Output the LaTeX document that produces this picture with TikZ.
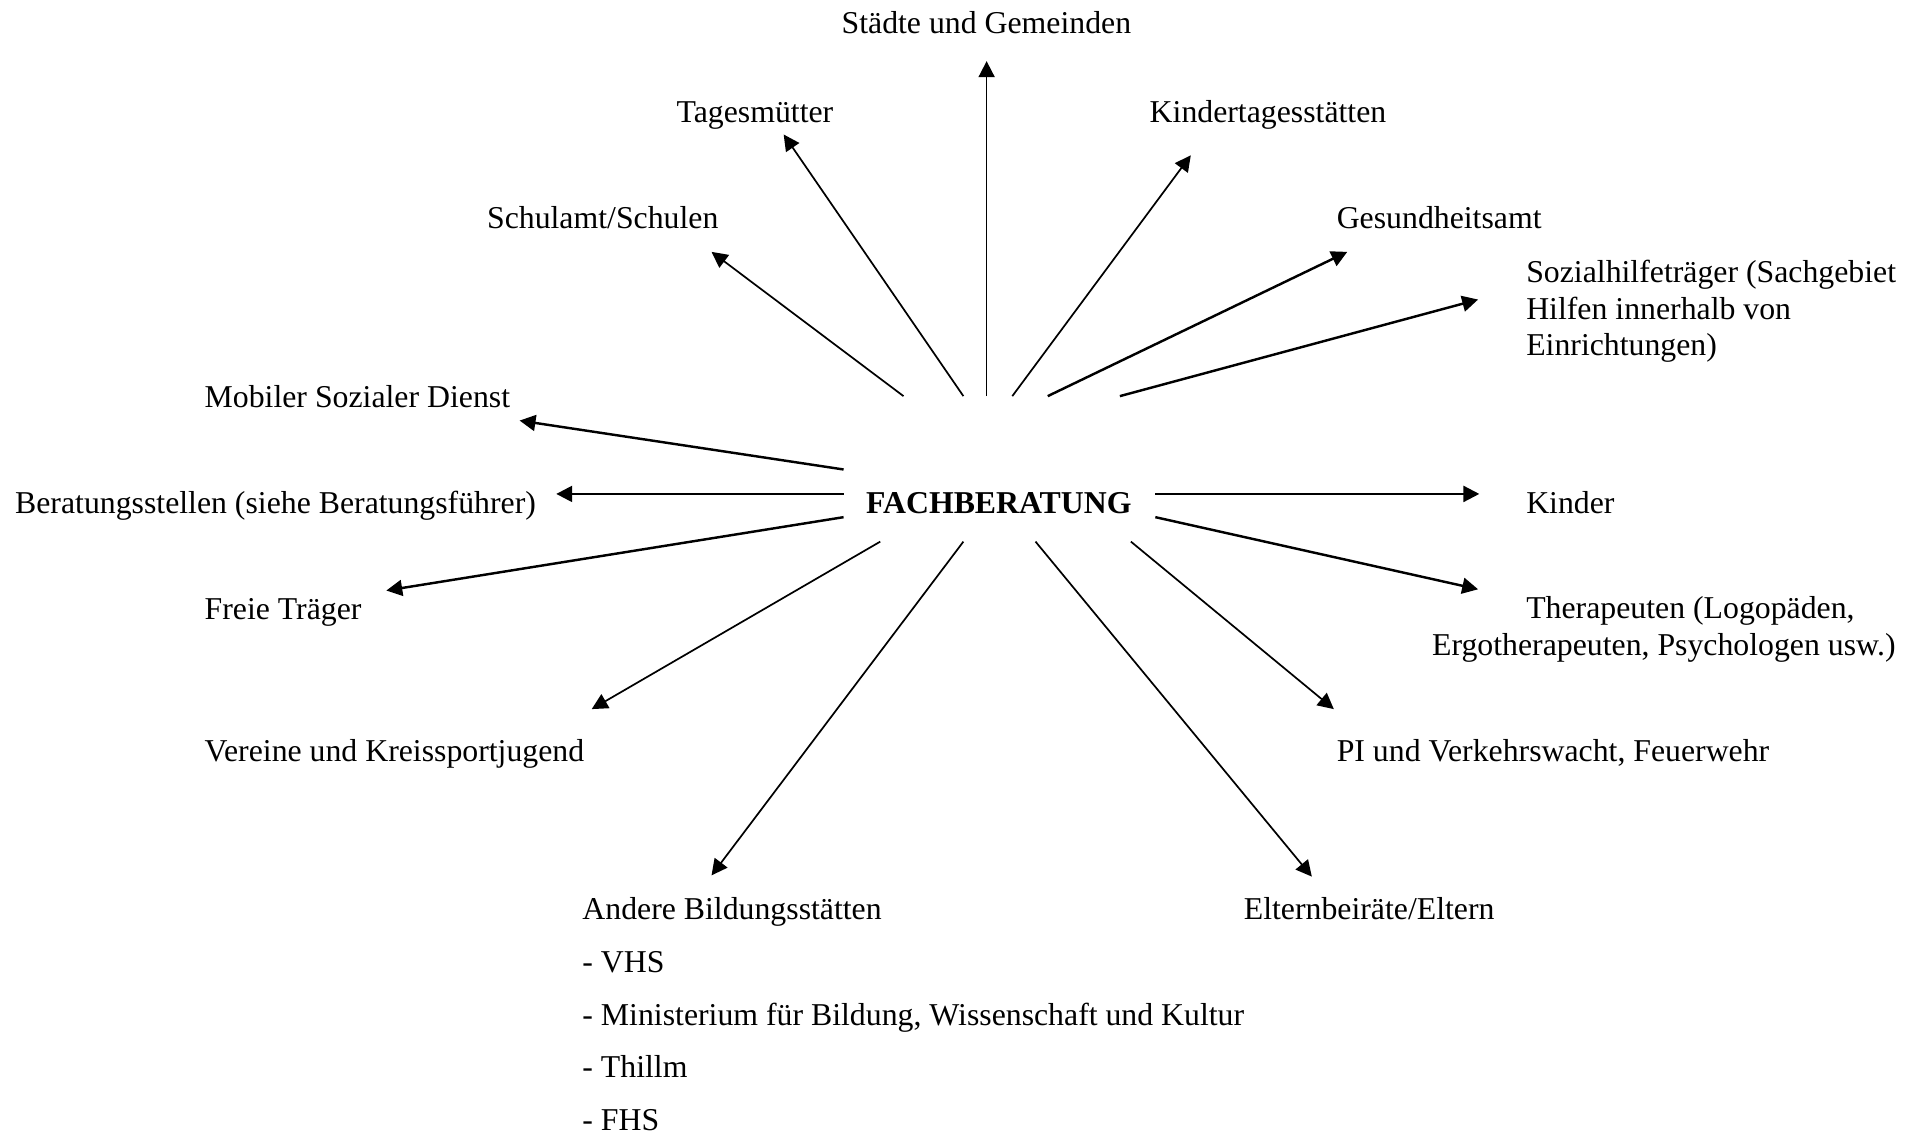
\documentclass[tikz,border=0pt]{standalone}
\usepackage{fontspec}
\setmainfont{Liberation Serif}
\usetikzlibrary{arrows.meta}
\begin{document}
\begin{tikzpicture}[x=0.5pt,y=-0.5pt,
  lbl/.style={inner sep=0pt,anchor=base west,font=\fontsize{13}{15}\selectfont,align=left},
  arr/.style={-{Triangle[length=6.5pt,width=6.5pt]},line width=1pt},
  arrthin/.style={-{Triangle[length=6.5pt,width=6.5pt]},line width=0.7pt}]
\useasboundingbox (0,0) rectangle (1568,928);
% labels
\node[lbl,font=\fontsize{13}{15}\selectfont\bfseries] (fb) at (708,420) {FACHBERATUNG};
\node[lbl] (staedte) at (688,27) {Städte und Gemeinden};
\node[lbl] (tages) at (553,100) {Tagesmütter};
\node[lbl] (kita) at (940,100) {Kindertagesstätten};
\node[lbl] (schul) at (398,187) {Schulamt/Schulen};
\node[lbl] (gesund) at (1093,187) {Gesundheitsamt};
\node[lbl] (sozial) at (1248,291) {Sozialhilfeträger (Sachgebiet\\Hilfen innerhalb von\\Einrichtungen)};
\node[lbl] (mobil) at (167,333) {Mobiler Sozialer Dienst};
\node[lbl] (berat) at (12,420) {Beratungsstellen (siehe Beratungsführer)};
\node[lbl] (kinder) at (1248,420) {Kinder};
\node[lbl] (freie) at (167,507) {Freie Träger};
\node[lbl] (thera) at (1171,536) {\hspace*{38.5pt}Therapeuten (Logopäden,\\Ergotherapeuten, Psychologen usw.)};
\node[lbl] (verein) at (167,623) {Vereine und Kreissportjugend};
\node[lbl] (pi) at (1093,623) {PI und Verkehrswacht, Feuerwehr};
\node[lbl,font=\fontsize{13}{21.65}\selectfont] (andere) at (476,925) {Andere Bildungsstätten\\- VHS\\- Ministerium für Bildung, Wissenschaft und Kultur\\- Thillm\\- FHS};
\node[lbl] (eltern) at (1017,752) {Elternbeiräte/Eltern};
% arrow coordinates
\coordinate (s1) at (807,324); \coordinate (t1) at (807,50);
\coordinate (s2) at (788,324); \coordinate (t2) at (641,110);
\coordinate (s3) at (828,324); \coordinate (t3) at (974,127);
\coordinate (s4) at (739,324); \coordinate (t4) at (582,206);
\coordinate (s5) at (857,324); \coordinate (t5) at (1102,206);
\coordinate (s6) at (916,324); \coordinate (t6) at (1209,245);
\coordinate (s7) at (690,384); \coordinate (t7) at (425,344);
\coordinate (s8) at (690,404); \coordinate (t8) at (455,404);
\coordinate (s9) at (690,423); \coordinate (t9) at (316,483);
\coordinate (s10) at (945,404); \coordinate (t10) at (1210,404);
\coordinate (s11) at (945,423); \coordinate (t11) at (1209,482);
\coordinate (s12) at (720,443); \coordinate (t12) at (484,580);
\coordinate (s13) at (925,443); \coordinate (t13) at (1091,580);
\coordinate (s14) at (788,443); \coordinate (t14) at (582,716);
\coordinate (s15) at (847,443); \coordinate (t15) at (1073,717);
\draw[arrthin] (s1) -- (t1);
\draw[arrthin] (s2) -- (t2);
\draw[arrthin] (s3) -- (t3);
\draw[arrthin] (s4) -- (t4);
\draw[arr] (s5) -- (t5);
\draw[arr] (s6) -- (t6);
\draw[arr] (s7) -- (t7);
\draw[arr] (s8) -- (t8);
\draw[arr] (s9) -- (t9);
\draw[arr] (s10) -- (t10);
\draw[arr] (s11) -- (t11);
\draw[arrthin] (s12) -- (t12);
\draw[arrthin] (s13) -- (t13);
\draw[arrthin] (s14) -- (t14);
\draw[arrthin] (s15) -- (t15);
\end{tikzpicture}
\end{document}
